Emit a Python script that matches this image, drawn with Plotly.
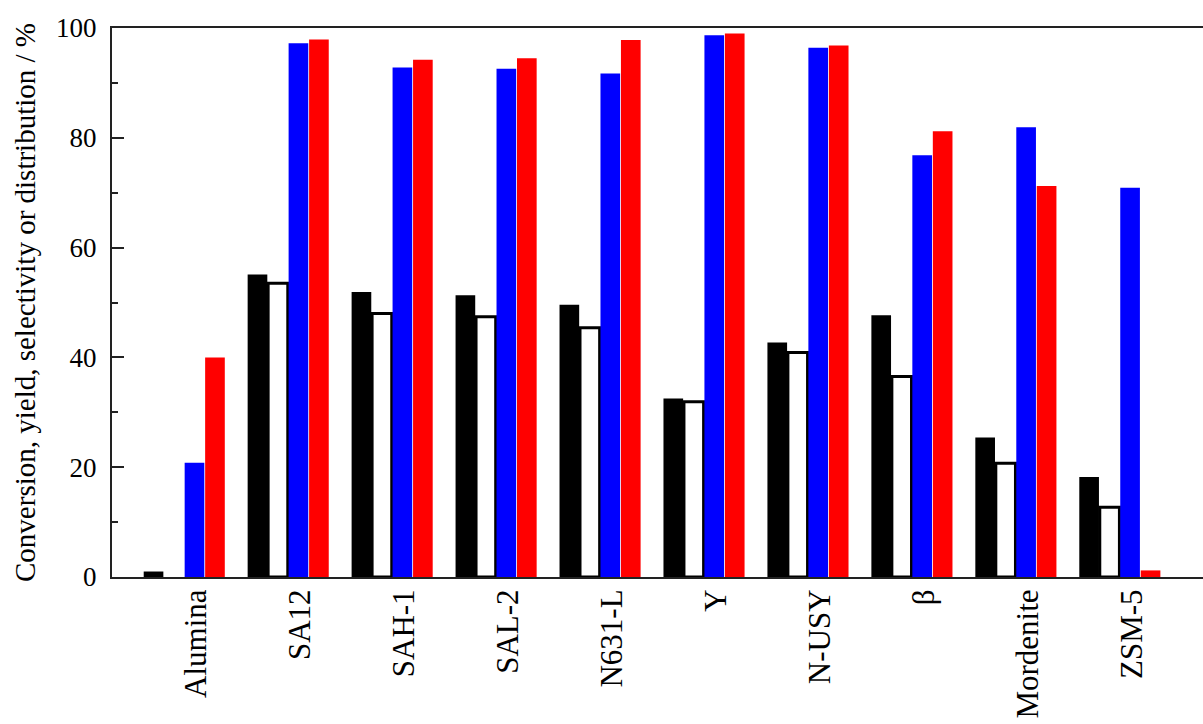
import plotly.graph_objects as go

# Catalysts (x categories)
catalysts = ["Alumina", "SA12", "SAH-1", "SAL-2", "N631-L", "Y", "N-USY", "β", "Mordenite", "ZSM-5"]

# Four measured quantities per catalyst (%)
conversion = [1.0, 55.1, 51.9, 51.3, 49.6, 32.5, 42.7, 47.7, 25.4, 18.2]
yield_pct = [None, 53.5, 48.0, 47.4, 45.4, 31.9, 40.9, 36.5, 20.7, 12.7]
selectivity = [20.8, 97.2, 92.8, 92.6, 91.7, 98.7, 96.4, 76.8, 81.9, 70.9]
distribution = [40.0, 97.9, 94.2, 94.5, 97.8, 99.0, 96.8, 81.2, 71.2, 1.2]

y_ticks = [0, 20, 40, 60, 80, 100]

FONT = "Liberation Serif"
AXIS_COLOR = "#222222"

fig = go.Figure()
fig.add_trace(go.Bar(x=catalysts, y=conversion, name="conversion",
                     marker=dict(color="black", line=dict(width=0))))
fig.add_trace(go.Bar(x=catalysts, y=yield_pct, name="yield",
                     marker=dict(color="white", line=dict(color="black", width=3))))
fig.add_trace(go.Bar(x=catalysts, y=selectivity, name="selectivity",
                     marker=dict(color="#0000ff", line=dict(width=0))))
fig.add_trace(go.Bar(x=catalysts, y=distribution, name="distribution",
                     marker=dict(color="#ff0000", line=dict(width=0))))

fig.update_layout(
    width=1203, height=724,
    margin=dict(l=112, r=0, t=28, b=147, autoexpand=False),
    paper_bgcolor="white", plot_bgcolor="white",
    barmode="group", bargap=0.212, bargroupgap=0.04,
    showlegend=False,
    font=dict(family=FONT, color="black"),
    xaxis=dict(
        type="category", range=[-0.695, 9.8],
        showline=True, linecolor=AXIS_COLOR, linewidth=2, mirror=True,
        ticks="", showgrid=False, zeroline=False,
        tickangle=-90, tickfont=dict(family=FONT, size=31),
        ticklabelshift=12, ticklabelstandoff=-2,
    ),
    yaxis=dict(
        range=[0, 100], tickvals=y_ticks,
        showline=True, linecolor=AXIS_COLOR, linewidth=2,
        ticks="inside", ticklen=12, tickwidth=2, tickcolor=AXIS_COLOR,
        minor=dict(ticks="inside", ticklen=6, tickwidth=2, tickcolor=AXIS_COLOR, dtick=10),
        showgrid=False, zeroline=False,
        tickfont=dict(family=FONT, size=27), ticklabelstandoff=8,
        title=dict(text="Conversion, yield, selectivity or distribution / %",
                   font=dict(family=FONT, size=29), standoff=12),
    ),
    yaxis2=dict(
        overlaying="y", side="right", anchor="x", range=[0, 100], tickvals=y_ticks,
        showline=False, ticks="inside", ticklen=6, tickwidth=2, tickcolor=AXIS_COLOR,
        showticklabels=False, showgrid=False, zeroline=False,
    ),
)

fig.write_html("out.html")
